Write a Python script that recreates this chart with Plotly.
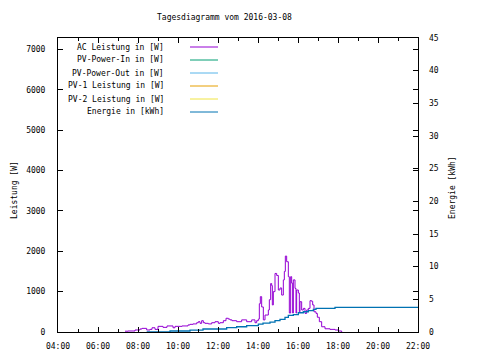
import plotly.graph_objects as go

DAY = "2016-03-08 "

ac_times = ["07:21","07:30","07:51","08:06","08:12","08:26","08:36","08:42","08:51","09:00",
            "09:15","09:27","09:45","09:51","10:12","10:30","10:36","10:45","10:56","11:01",
            "11:06","11:11","11:16","11:21","11:31","11:41","11:51","12:01","12:06","12:16",
            "12:24","12:31","12:36","12:42","12:56","13:11","13:26","13:41","13:51","13:56",
            "14:01","14:04","14:07","14:11","14:16","14:21","14:31","14:34","14:38","14:41",
            "14:43","14:46","14:51","14:56","15:01","15:06","15:11","15:16","15:19","15:22",
            "15:26","15:31","15:34","15:38","15:41","15:44","15:46","15:51","15:54","15:56",
            "16:01","16:04","16:06","16:11","16:16","16:21","16:26","16:31","16:36","16:41",
            "16:44","16:48","16:54","16:58","17:04","17:11","17:21","17:36","17:51","18:01",
            "18:11"]
ac_power = [20,25,50,75,90,50,65,105,65,140,
            115,150,105,140,150,175,190,200,230,255,
            215,280,230,215,200,230,255,215,230,280,
            340,320,300,280,255,300,255,300,230,280,
            320,700,875,620,300,420,545,800,1200,1150,
            670,1000,1450,1400,1040,1090,915,1290,1500,1880,
            1740,1370,470,1370,1210,470,1290,1080,470,1040,
            965,500,750,545,585,460,545,585,775,760,
            670,500,460,365,255,130,80,65,50,25,
            0]

energy_times = ["08:26","09:36","10:36","11:15","12:26","12:56","13:26","14:01","14:15","14:36",
                "14:51","15:06","15:21","15:31","15:46","16:01","16:16","16:31","16:46","16:54",
                "17:51","22:00"]
energy_kwh = [0.0,0.15,0.3,0.46,0.66,0.8,0.97,1.22,1.35,1.5,
              1.73,1.94,2.25,2.55,2.65,2.95,3.1,3.26,3.47,3.62,
              3.78,3.78]

legend_labels = ["AC Leistung in [W]", "PV-Power-In in [W]", "PV-Power-Out in [W]",
                 "PV-1 Leistung in [W]", "PV-2 Leistung in [W]", "Energie in [kWh]"]
legend_colors = ["#9400d3", "#009e73", "#56b4e9", "#e69f00", "#f0e442", "#0072b2"]

title_text = "Tagesdiagramm vom 2016-03-08"
x_tick_labels = ["04:00","06:00","08:00","10:00","12:00","14:00","16:00","18:00","20:00","22:00"]

FONT = "DejaVu Sans Mono"

fig = go.Figure()
fig.add_trace(go.Scatter(x=[DAY + t for t in ac_times], y=ac_power, mode="lines",
                         line=dict(color=legend_colors[0], width=1, shape="hv"),
                         name=legend_labels[0], yaxis="y"))
fig.add_trace(go.Scatter(x=[DAY + t for t in energy_times], y=energy_kwh, mode="lines",
                         line=dict(color=legend_colors[5], width=1.3, shape="hv"),
                         name=legend_labels[5], yaxis="y2"))

# legend drawn as right-aligned text + line samples
W, H = 360.0, 294.0
rows_px = [47, 60, 73, 86, 99, 112]
for lab, col, ypx in zip(legend_labels, legend_colors, rows_px):
    yp = (332 - ypx) / H
    fig.add_annotation(x=(166 - 58) / W, y=yp, xref="paper", yref="paper", text=lab,
                       showarrow=False, xanchor="right", yanchor="middle",
                       font=dict(family=FONT, size=8, color="black"))
    fig.add_shape(type="line", xref="paper", yref="paper",
                  x0=(190 - 58) / W, x1=(218 - 58) / W, y0=yp, y1=yp,
                  line=dict(color=col, width=1))

fig.add_annotation(x=(224 - 58) / W, y=1 + (38 - 18) / H, xref="paper", yref="paper",
                   text=title_text, showarrow=False, xanchor="center", yanchor="middle",
                   font=dict(family=FONT, size=8, color="black"))
fig.add_annotation(x=(14 - 58) / W, y=(332 - 190) / H, xref="paper", yref="paper",
                   text="Leistung [W]", textangle=-90, showarrow=False,
                   xanchor="center", yanchor="middle",
                   font=dict(family=FONT, size=8, color="black"))
fig.add_annotation(x=(452 - 58) / W, y=(332 - 188) / H, xref="paper", yref="paper",
                   text="Energie [kWh]", textangle=-90, showarrow=False,
                   xanchor="center", yanchor="middle",
                   font=dict(family=FONT, size=8, color="black"))

# page body has an 8px margin, so the figure is 472x352 with the plot area at 58..418 x 38..332
fig.update_layout(
    width=472, height=352,
    margin=dict(l=50, r=62, t=30, b=28, autoexpand=False),
    paper_bgcolor="white", plot_bgcolor="white",
    showlegend=False,
    font=dict(family=FONT, size=8, color="black"),
    xaxis=dict(
        type="date",
        range=[DAY + "04:00", DAY + "22:00"],
        tickvals=[DAY + t for t in x_tick_labels],
        ticktext=x_tick_labels,
        ticks="inside", ticklen=5, tickcolor="black", tickwidth=1,
        minor=dict(dtick=3600000, ticks="inside", ticklen=3, tickcolor="black"),
        showline=True, linecolor="black", linewidth=1, mirror="ticks",
        showgrid=False, zeroline=False,
        ticklabelstandoff=6,
        fixedrange=True,
    ),
    yaxis=dict(
        range=[0, 7280],
        tickvals=[0,1000,2000,3000,4000,5000,6000,7000],
        ticks="inside", ticklen=5, tickcolor="black",
        showline=True, linecolor="black", linewidth=1, mirror="ticks",
        showgrid=False, zeroline=False,
        ticklabelstandoff=10,
    ),
    yaxis2=dict(
        range=[0, 45], overlaying="y", side="right",
        tickvals=[0,5,10,15,20,25,30,35,40,45],
        ticks="inside", ticklen=5, tickcolor="black",
        showline=False, showgrid=False, zeroline=False,
        ticklabelstandoff=10,
    ),
)

fig.write_html("out.html")
